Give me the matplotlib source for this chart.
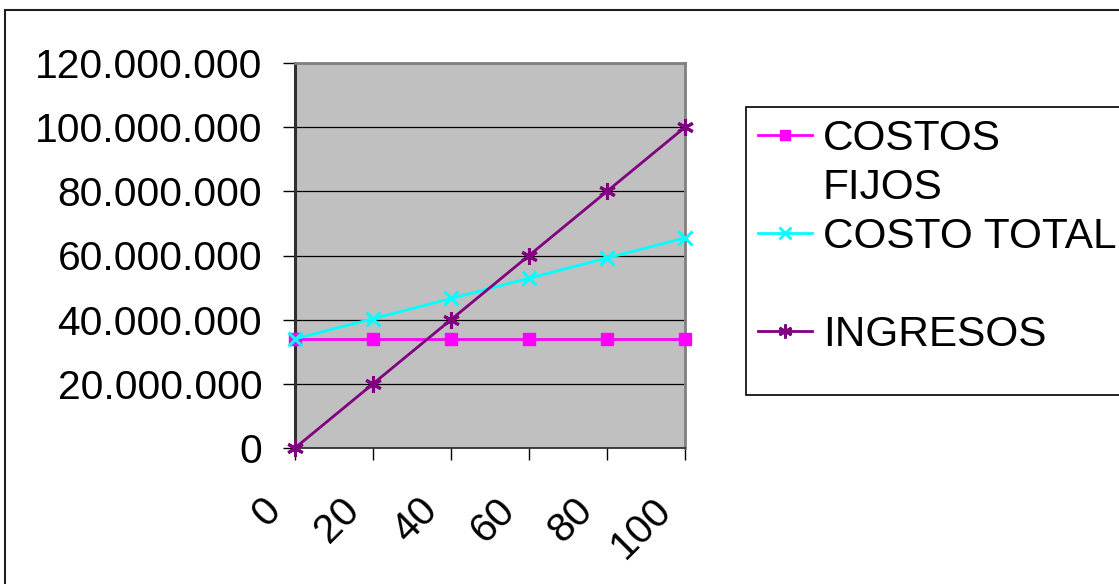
import matplotlib
matplotlib.use("Agg")
from matplotlib import pyplot as plt
from matplotlib.lines import Line2D
from matplotlib.patches import Rectangle
from matplotlib.ticker import FuncFormatter
import matplotlib.transforms as mtransforms

plt.rcParams['font.family'] = ['Liberation Sans', 'DejaVu Sans']

# datos
unidades = [0, 20, 40, 60, 80, 100]
costos_fijos = [34000000, 34000000, 34000000, 34000000, 34000000, 34000000]
costo_total = [34000000, 40300000, 46600000, 52900000, 59200000, 65500000]
ingresos = [0, 20000000, 40000000, 60000000, 80000000, 100000000]
y_ticks = [0, 20000000, 40000000, 60000000, 80000000, 100000000, 120000000]

fig = plt.figure(figsize=(11.19, 5.84), dpi=100)
ax = fig.add_axes([295 / 1119, 136 / 584, 390 / 1119, 385 / 584])
ax.set_facecolor("#C0C0C0")

# borde exterior del grafico
fig.patches.append(Rectangle((5 / 1119, -0.1), 1.2, 1 - 10 / 584 + 0.1, transform=fig.transFigure,
                             fill=False, edgecolor="#202020", linewidth=1.5))

l1, = ax.plot(unidades, costos_fijos, color="#FF00FF", lw=2, marker="s", ms=9,
              clip_on=False, zorder=3)
l2, = ax.plot(unidades, costo_total, color="#00FFFF", lw=2, marker="x", ms=10, mew=2.2,
              clip_on=False, zorder=4)
l3, = ax.plot(unidades, ingresos, color="#800080", lw=2, marker=(6, 2, 0), ms=12, mew=2.2,
              clip_on=False, zorder=5)

ax.set_xlim(0, 100)
ax.set_ylim(0, 120000000)
ax.set_yticks(y_ticks)
ax.yaxis.set_major_formatter(FuncFormatter(lambda v, p: "{:,.0f}".format(v).replace(",", ".")))
ax.grid(axis="y", color="#000000", linewidth=0.9)
ax.set_axisbelow(True)

ax.set_xticks(unidades)
ax.set_xticklabels([str(u) for u in unidades], rotation=45, ha="right", va="center",
                   rotation_mode="anchor")
ax.tick_params(axis="both", direction="out", length=8.6, width=1, colors="#000000", labelsize=29.3)
ax.tick_params(axis="y", pad=15)
ax.tick_params(axis="x", pad=32)
offset = mtransforms.ScaledTranslation(-0.20, 0, fig.dpi_scale_trans)
for lab in ax.get_xticklabels():
    lab.set_transform(lab.get_transform() + offset)

for s in ["top", "right"]:
    ax.spines[s].set_color("#808080")
    ax.spines[s].set_linewidth(2)
ax.spines["left"].set_color("#303030")
ax.spines["left"].set_linewidth(2.2)
ax.spines["bottom"].set_color("#303030")
ax.spines["bottom"].set_linewidth(1.3)

vacio = Line2D([], [], color="none")
leg = fig.legend([Line2D([], [], color="#FF00FF", lw=2, marker="s", ms=7),
                  vacio,
                  Line2D([], [], color="#00FFFF", lw=2, marker="x", ms=8, mew=2),
                  vacio,
                  Line2D([], [], color="#800080", lw=2, marker=(6, 2, 0), ms=10, mew=2),
                  vacio],
                 ["COSTOS", "FIJOS", "COSTO TOTAL", " ", "INGRESOS", " "],
                 loc="upper left", bbox_to_anchor=(746 / 1119, 1 - 107 / 584),
                 bbox_transform=fig.transFigure, borderaxespad=0, fontsize=30.5,
                 frameon=True, fancybox=False, edgecolor="#000000", framealpha=1,
                 handlelength=1.26, handletextpad=0.26, labelspacing=0.21,
                 borderpad=0.29, numpoints=1)
leg.get_frame().set_linewidth(1.2)
leg.get_texts()[5].set_fontsize(8)
# fila vacia final mas baja
try:
    ultima_fila = leg._legend_handle_box.get_children()[0].get_children()[-1]
    ultima_fila.get_children()[0].height = 12
except Exception:
    pass

fig.savefig("out.png", dpi=100)
